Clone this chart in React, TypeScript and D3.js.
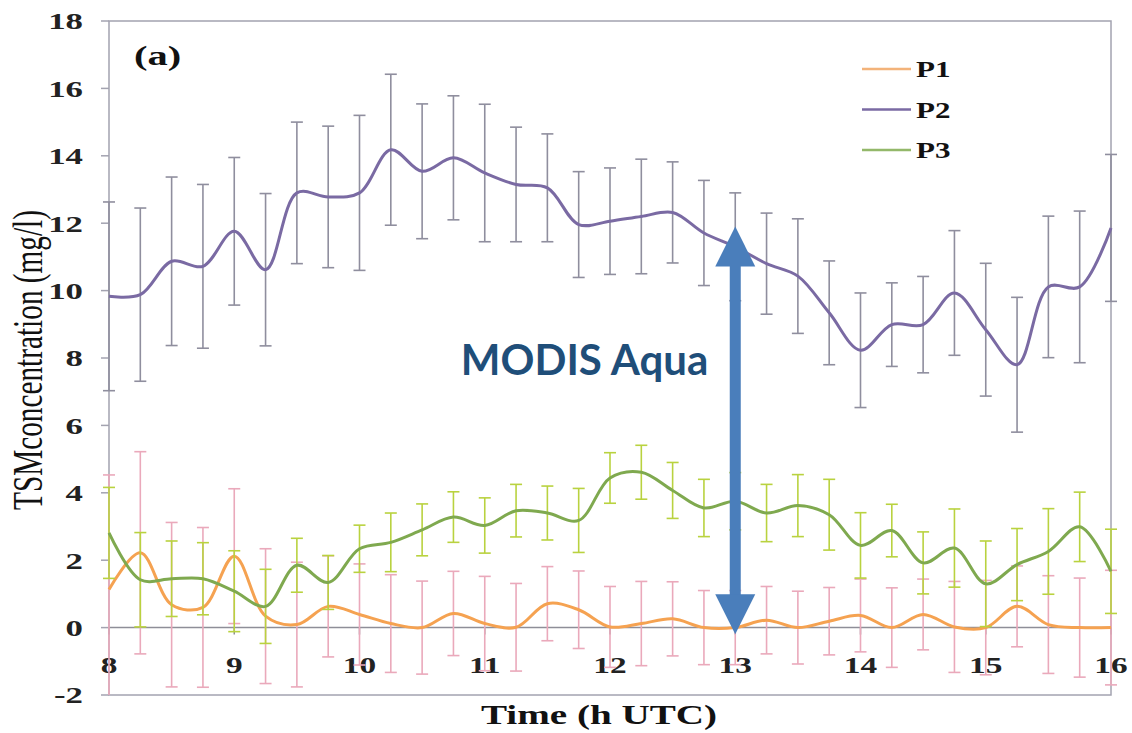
import React from 'react';
import * as d3 from 'd3';

// Time of day (h UTC), one reading every quarter hour
const times = [8, 8.25, 8.5, 8.75, 9, 9.25, 9.5, 9.75, 10, 10.25, 10.5, 10.75, 11, 11.25, 11.5, 11.75,
  12, 12.25, 12.5, 12.75, 13, 13.25, 13.5, 13.75, 14, 14.25, 14.5, 14.75, 15, 15.25, 15.5, 15.75, 16];

const p1 = [1.13, 2.22, 0.68, 0.6, 2.12, 0.34, 0.09, 0.63, 0.39, 0.12, 0.0, 0.42, 0.12, 0.01, 0.71, 0.53,
  0.02, 0.12, 0.26, 0.0, 0.0, 0.22, 0.0, 0.19, 0.36, 0.0, 0.39, 0.02, 0.0, 0.63, 0.09, 0.0, 0.0];
const p1Err = [3.4, 3.0, 2.44, 2.37, 2.0, 2.0, 1.85, 1.5, 1.5, 1.45, 1.38, 1.25, 1.4, 1.3, 1.1, 1.15,
  1.2, 1.25, 1.1, 1.1, 1.1, 1.0, 1.08, 1.0, 1.08, 1.18, 1.05, 1.35, 1.4, 1.2, 1.45, 1.47, 1.7];

const p2 = [9.83, 9.88, 10.87, 10.72, 11.76, 10.62, 12.9, 12.78, 12.9, 14.18, 13.54, 13.94, 13.49, 13.15, 13.05, 11.96,
  12.06, 12.2, 12.32, 11.71, 11.3, 10.8, 10.43, 9.34, 8.23, 8.99, 8.99, 9.93, 8.84, 7.8, 10.11, 10.11, 11.86];
const p2Err = [2.8, 2.57, 2.5, 2.43, 2.19, 2.26, 2.1, 2.1, 2.3, 2.24, 2.0, 1.84, 2.04, 1.7, 1.6, 1.57,
  1.58, 1.7, 1.5, 1.56, 1.6, 1.5, 1.7, 1.54, 1.7, 1.24, 1.43, 1.85, 1.97, 2.0, 2.1, 2.25, 2.18];

const p3 = [2.81, 1.42, 1.45, 1.45, 1.08, 0.63, 1.85, 1.34, 2.34, 2.53, 2.9, 3.28, 3.03, 3.47, 3.4, 3.18,
  4.44, 4.61, 4.07, 3.55, 3.75, 3.4, 3.62, 3.35, 2.44, 2.88, 1.92, 2.36, 1.3, 1.87, 2.26, 2.99, 1.67];
const p3Err = [1.35, 1.4, 1.12, 1.07, 1.2, 1.1, 0.8, 0.8, 0.7, 0.87, 0.77, 0.75, 0.82, 0.78, 0.8, 0.95,
  0.75, 0.8, 0.83, 0.85, 0.85, 0.85, 0.92, 1.05, 0.97, 0.78, 0.92, 1.16, 1.27, 1.07, 1.27, 1.03, 1.25];

const xTicks = [8, 9, 10, 11, 12, 13, 14, 15, 16];
const yTicks = [-2, 0, 2, 4, 6, 8, 10, 12, 14, 16, 18];

// annotation: overpass time and the arrow extent (in data units)
const overpass = 13;
const arrowTop = 11.9;
const arrowBottom = -0.2;

const series = [
  { name: 'P1', values: p1, err: p1Err, line: '#f5a251', bar: '#eaa9bb', legend: '#f3b37a' },
  { name: 'P2', values: p2, err: p2Err, line: '#7a6aa3', bar: '#8f8e9e', legend: '#7a6aa3' },
  { name: 'P3', values: p3, err: p3Err, line: '#7fa94f', bar: '#b9d23f', legend: '#93b86a' },
];

const W = 1132;
const H = 733;
const serif = '"Liberation Serif", "Times New Roman", serif';

export default function App() {
  const x = d3.scaleLinear().domain([8, 16]).range([109, 1111]);
  const y = d3.scaleLinear().domain([-2, 18]).range([695, 21]);

  const line = d3.line<number>()
    .x((_, i) => x(times[i]))
    .y(d => y(d))
    .curve(d3.curveCatmullRom.alpha(0.5));

  const ax = x(overpass);
  const headW = 20;
  const headH = 40;
  const yTop = y(arrowTop);
  const yBot = y(arrowBottom);

  return (
    <svg width={W} height={H} style={{ position: 'absolute', left: 0, top: 0, background: '#fff' }}>
      <defs>
        <clipPath id="plot">
          <rect x={x(8) - 8} y={y(18)} width={x(16) - x(8) + 16} height={y(-2) - y(18)} />
        </clipPath>
      </defs>

      {/* plot frame */}
      <rect x={x(8)} y={y(18)} width={x(16) - x(8)} height={y(-2) - y(18)} fill="none" stroke="#a3a3b0" strokeWidth={1.5} />

      {/* y ticks + labels */}
      {yTicks.map(t => (
        <g key={'y' + t}>
          <line x1={x(8) - 8} x2={x(8)} y1={y(t)} y2={y(t)} stroke="#a3a3b0" strokeWidth={1.5} />
          <text transform={`translate(83,${y(t)}) scale(1.45,1)`} dy="0.35em" textAnchor="end"
            fontFamily={serif} fontWeight="bold" fontSize={24} fill="#222">{t}</text>
        </g>
      ))}

      {/* x axis at zero */}
      <line x1={x(8)} x2={x(16)} y1={y(0)} y2={y(0)} stroke="#8e8e98" strokeWidth={1.5} />
      {xTicks.map(t => (
        <g key={'x' + t}>
          <line x1={x(t)} x2={x(t)} y1={y(0)} y2={y(0) + 7} stroke="#8e8e98" strokeWidth={1.5} />
          <text transform={`translate(${x(t)},673) scale(1.45,1)`} textAnchor="middle"
            fontFamily={serif} fontWeight="bold" fontSize={23} fill="#222">{t}</text>
        </g>
      ))}

      {/* series: error bars then line */}
      {series.map(s => (
        <g key={s.name}>
          <g clipPath="url(#plot)">
            {s.values.map((v, i) => {
              const cx = x(times[i]);
              const y1 = y(v + s.err[i]);
              const y2 = y(v - s.err[i]);
              return (
                <g key={i} stroke={s.bar} strokeWidth={1.6}>
                  <line x1={cx} x2={cx} y1={y1} y2={y2} />
                  <line x1={cx - 6} x2={cx + 6} y1={y1} y2={y1} />
                  <line x1={cx - 6} x2={cx + 6} y1={y2} y2={y2} />
                </g>
              );
            })}
          </g>
          <path d={line(s.values) || ''} fill="none" stroke={s.line} strokeWidth={3} />
        </g>
      ))}

      {/* legend */}
      {series.map((s, i) => (
        <g key={'lg' + s.name} transform={`translate(0,${69 + i * 40.5})`}>
          <line x1={862} x2={911} y1={0} y2={0} stroke={s.legend} strokeWidth={2.5} />
          <text transform={`translate(916,8) scale(1.35,1)`} fontFamily={serif} fontWeight="bold" fontSize={23} fill="#111">{s.name}</text>
        </g>
      ))}

      {/* panel label */}
      <text transform={`translate(134,65) scale(1.5,1)`} fontFamily={serif} fontWeight="bold" fontSize={27} fill="#111">(a)</text>

      {/* axis titles */}
      <text transform={`translate(599,724) scale(1.45,1)`} textAnchor="middle" fontFamily={serif}
        fontWeight="bold" fontSize={27} fill="#111">Time (h UTC)</text>
      <text transform={`translate(42,360) scale(1.6,1) rotate(-90)`} textAnchor="middle" fontFamily={serif}
        fontSize={26} fill="#111" textLength={300} lengthAdjust="spacingAndGlyphs">TSMconcentration (mg/l)</text>

      {/* MODIS Aqua overpass arrow */}
      <rect x={ax - 5.5} y={yTop + headH - 1} width={11} height={yBot - yTop - 2 * headH + 2} fill="#4a7ebb" />
      <path d={`M${ax},${yTop} L${ax + headW},${yTop + headH} L${ax - headW},${yTop + headH} Z`} fill="#4a7ebb" />
      <path d={`M${ax},${yBot} L${ax + headW},${yBot - headH} L${ax - headW},${yBot - headH} Z`} fill="#4a7ebb" />
      <text x={ax - 27} y={y(7.5)} textAnchor="end" fontFamily="Lato, 'Open Sans', sans-serif" fontWeight="bold"
        fontSize={42} fill="#1f4e79">MODIS Aqua</text>
    </svg>
  );
}
